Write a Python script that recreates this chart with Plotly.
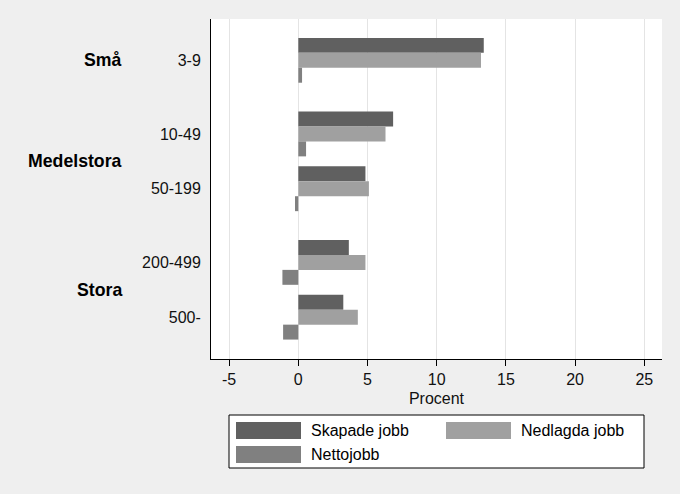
import plotly.graph_objects as go

categories = ["3-9", "10-49", "50-199", "200-499", "500-"]
group_of = [0, 1, 1, 2, 2]
groups = ["Små", "Medelstora", "Stora"]
skapade = [13.4, 6.85, 4.85, 3.65, 3.25]
nedlagda = [13.2, 6.3, 5.1, 4.85, 4.3]
netto = [0.27, 0.56, -0.24, -1.15, -1.1]
series_names = ["Skapade jobb", "Nedlagda jobb", "Nettojobb"]
colors = ["#606060", "#A0A0A0", "#808080"]
xticks = [-5, 0, 5, 10, 15, 20, 25]
xticklabels = ["-5", "0", "5", "10", "15", "20", "25"]

GAP = 0.345
pos = [i + GAP * g for i, g in enumerate(group_of)]

FONT = "Liberation Sans, Arial, sans-serif"
fig = go.Figure()
for name, vals, col in zip(series_names, [skapade, nedlagda, netto], colors):
    fig.add_trace(go.Bar(y=pos, x=vals, orientation="h", name=name,
                         marker=dict(color=col, line=dict(width=0)),
                         showlegend=False))

# group labels
for gi, gname in enumerate(groups):
    ps = [p for p, g in zip(pos, group_of) if g == gi]
    fig.add_annotation(x=0, xref="paper", y=sum(ps) / len(ps), yref="y",
                       text=gname, showarrow=False, xanchor="right",
                       xshift=-87, font=dict(family=FONT, size=17.7, color="black",
                                             weight="bold"))

# custom legend
W, H = 451, 340
def px(x): return (x - 211) / W
def py(y): return (359 - y) / H
fig.add_shape(type="rect", xref="paper", yref="paper", x0=px(229), x1=px(644),
              y0=py(415), y1=py(468), fillcolor="white",
              line=dict(color="black", width=1))
legend_pos = [(236, 422), (446, 422), (236, 446)]
for (lx, ly), name, col in zip(legend_pos, series_names, colors):
    fig.add_shape(type="rect", xref="paper", yref="paper", x0=px(lx), x1=px(lx + 65),
                  y0=py(ly), y1=py(ly + 17), fillcolor=col, line=dict(width=0))
    fig.add_annotation(x=px(lx + 73), y=py(ly + 8.5), xref="paper", yref="paper",
                       text=name, showarrow=False, xanchor="left", yanchor="middle",
                       font=dict(family=FONT, size=16, color="black"))

fig.update_layout(
    width=680, height=494,
    margin=dict(l=211, r=18, t=19, b=135),
    paper_bgcolor="#EFEFEF", plot_bgcolor="white",
    barmode="group", bargap=0.182, bargroupgap=0,
    font=dict(family=FONT, size=16, color="#111111"),
)
fig.update_xaxes(range=[-6.31, 26.28], tickvals=xticks, ticktext=xticklabels,
                 ticks="outside", ticklen=6,
                 tickcolor="black", showgrid=True, gridcolor="#E4E4E4", zeroline=False,
                 showline=True, linecolor="black", linewidth=1,
                 title=dict(text="Procent", standoff=5, font=dict(size=16)),
                 tickfont=dict(size=16))
fig.update_yaxes(range=[pos[-1] + 42 / 55, -41.5 / 55], tickvals=pos, ticktext=categories,
                 ticks="", showgrid=False, zeroline=False, showline=True,
                 linecolor="black", linewidth=1, ticklabelstandoff=6,
                 tickfont=dict(size=16))
fig.write_html("out.html", config={"displayModeBar": False},
               post_script="document.body.style.margin='0';document.body.style.background='#EFEFEF';")
